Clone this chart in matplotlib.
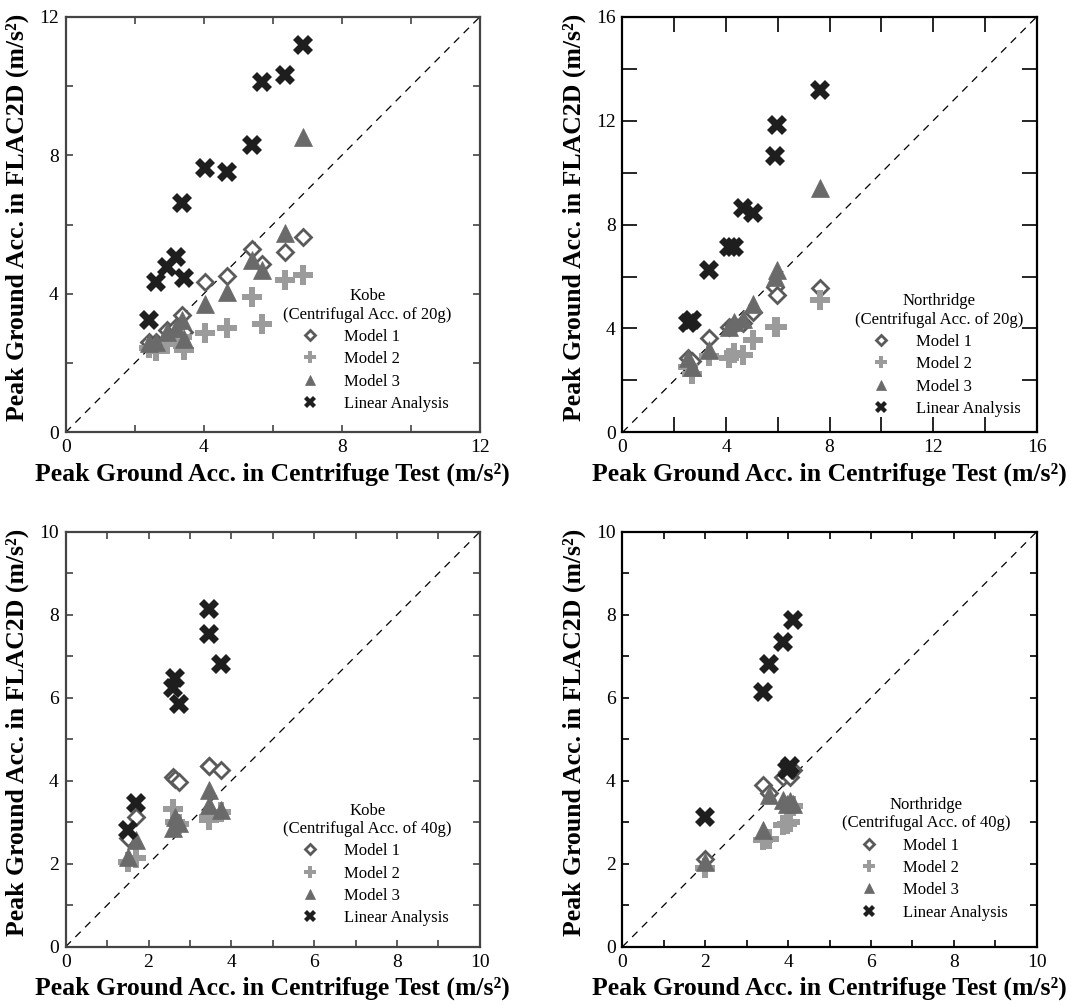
import matplotlib
matplotlib.use("Agg")
import matplotlib.pyplot as plt
from matplotlib.ticker import MultipleLocator

plt.rcParams["font.family"] = ["Liberation Serif", "DejaVu Serif"]

SERIES = ["Model 1", "Model 2", "Model 3", "Linear Analysis"]

# ── Kobe, 20g ──────────────────────────────────────────────────────────────
kobe20_x = [2.42, 2.62, 2.95, 3.20, 3.36, 3.42, 4.05, 4.66, 5.39, 5.68, 6.35, 6.88]
kobe20_m1 = [2.62, 2.60, 2.95, 3.05, 3.38, 2.90, 4.33, 4.51, 5.29, 4.85, 5.20, 5.65]
kobe20_m2 = [2.45, 2.35, 2.55, 2.70, 2.75, 2.38, 2.88, 3.00, 3.91, 3.14, 4.40, 4.54]
kobe20_m3 = [2.58, 2.62, 2.90, 3.00, 3.25, 2.70, 3.72, 4.06, 4.97, 4.68, 5.75, 8.54]
kobe20_lin = [3.24, 4.35, 4.78, 5.07, 6.61, 4.45, 7.62, 7.53, 8.30, 10.12, 10.32, 11.18]

# ── Northridge, 20g ────────────────────────────────────────────────────────
nor20_x = [2.54, 2.67, 3.33, 4.10, 4.30, 4.67, 5.05, 5.88, 5.96, 7.63]
nor20_m1 = [2.85, 2.75, 3.65, 4.06, 4.15, 4.20, 4.64, 5.60, 5.28, 5.56]
nor20_m2 = [2.50, 2.25, 2.95, 2.85, 3.04, 2.98, 3.55, 4.07, 4.07, 5.09]
nor20_m3 = [2.85, 2.52, 3.17, 4.06, 4.25, 4.38, 4.96, 6.00, 6.25, 9.39]
nor20_lin = [4.20, 4.32, 6.25, 7.14, 7.14, 8.62, 8.43, 10.64, 11.83, 13.18]

# ── Kobe, 40g ──────────────────────────────────────────────────────────────
kobe40_x = [1.51, 1.70, 2.60, 2.64, 2.74, 3.47, 3.47, 3.74]
kobe40_m1 = [2.61, 3.13, 4.10, 4.05, 3.98, 4.35, 4.35, 4.26]
kobe40_m2 = [2.05, 2.13, 3.33, 3.00, 2.95, 3.13, 3.05, 3.25]
kobe40_m3 = [2.17, 2.57, 2.85, 3.13, 2.97, 3.78, 3.41, 3.29]
kobe40_lin = [2.81, 3.46, 6.23, 6.47, 5.85, 8.15, 7.53, 6.81]

# ── Northridge, 40g ────────────────────────────────────────────────────────
nor40_x = [1.99, 3.40, 3.54, 3.88, 3.98, 4.05, 4.12]
nor40_m1 = [2.12, 3.90, 3.70, 4.10, 4.20, 4.10, 4.25]
nor40_m2 = [1.89, 2.57, 2.60, 2.93, 2.95, 3.00, 3.40]
nor40_m3 = [2.05, 2.81, 3.66, 3.53, 3.45, 3.50, 3.45]
nor40_lin = [3.13, 6.14, 6.81, 7.35, 4.25, 4.35, 7.87]

STYLE = {
    "Model 1": dict(marker="D", mfc="white", mec="#5a5a5a", mew=2.0, ms=8),
    "Model 2": dict(marker="P", mfc="#9b9b9b", mec="#9b9b9b", mew=0, ms=14),
    "Model 3": dict(marker="^", mfc="#6a6a6a", mec="#6a6a6a", mew=0.5, ms=13),
    "Linear Analysis": dict(marker="X", mfc="#1e1e1e", mec="#1e1e1e", mew=0, ms=14),
}

PANELS = [
    # quake, g, x, series, lim, major, minor, tick len, rect, spine colour, legend anchor
    ("Kobe", "20g", kobe20_x, [kobe20_m1, kobe20_m2, kobe20_m3, kobe20_lin],
     12, 4, 2, 5, [0.0613, 0.5698, 0.3868, 0.4135], "#444444", (0.96, 0.021)),
    ("Northridge", "20g", nor20_x, [nor20_m1, nor20_m2, nor20_m3, nor20_lin],
     16, 4, 2, 11, [0.5812, 0.5698, 0.3868, 0.4135], "black", (0.995, 0.009)),
    ("Kobe", "40g", kobe40_x, [kobe40_m1, kobe40_m2, kobe40_m3, kobe40_lin],
     10, 2, 1, 5, [0.0613, 0.0580, 0.3868, 0.4129], "#444444", (0.96, 0.021)),
    ("Northridge", "40g", nor40_x, [nor40_m1, nor40_m2, nor40_m3, nor40_lin],
     10, 2, 1, 5, [0.5812, 0.0580, 0.3868, 0.4129], "black", (0.965, 0.035)),
]

fig = plt.figure(figsize=(10.71, 10.05), dpi=100)

for quake, g, xs, ys, lim, major, minor, tlen, rect, spc, anchor in PANELS:
    ax = fig.add_axes(rect)
    ax.plot([0, lim], [0, lim], color="black", lw=0.9, ls=(0, (6, 5)), zorder=1)
    for name, yv in zip(SERIES, ys):
        ax.plot(xs, yv, ls="none", label=name, zorder=3, **STYLE[name])
    ax.set_xlim(0, lim)
    ax.set_ylim(0, lim)
    ax.xaxis.set_major_locator(MultipleLocator(major))
    ax.yaxis.set_major_locator(MultipleLocator(major))
    ax.xaxis.set_minor_locator(MultipleLocator(minor))
    ax.yaxis.set_minor_locator(MultipleLocator(minor))
    ax.tick_params(which="both", direction="in", top=True, right=True,
                   length=tlen, width=1.2, color=spc, labelsize=14, pad=5)
    for sp in ax.spines.values():
        sp.set_linewidth(1.6)
        sp.set_color(spc)
    ax.set_xlabel("Peak Ground Acc. in Centrifuge Test (m/s\u00b2)",
                  fontsize=18.5, fontweight="bold")
    ax.set_ylabel("Peak Ground Acc. in FLAC2D (m/s\u00b2)",
                  fontsize=18.5, fontweight="bold")
    ax.xaxis.set_label_coords(0.5, -0.072)
    ax.yaxis.set_label_coords(-0.088, 0.517)
    leg = ax.legend(title=f"{quake}\n(Centrifugal Acc. of {g})",
                    loc="lower right", bbox_to_anchor=anchor,
                    frameon=False, fontsize=12, title_fontsize=12,
                    markerscale=0.6, labelspacing=0.38, handletextpad=0.6,
                    handlelength=2.9, borderpad=0.2)
    leg.get_title().set_multialignment("center")

fig.savefig("out.png", dpi=100)
